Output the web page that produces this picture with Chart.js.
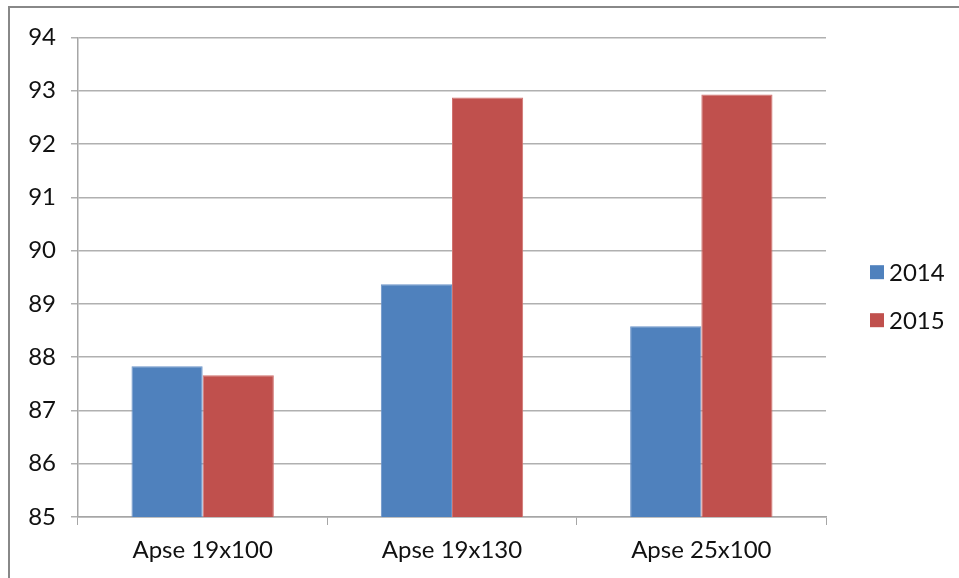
<!DOCTYPE html>
<html>
<head>
<meta charset="utf-8">
<script src="https://cdn.jsdelivr.net/npm/chart.js@4"></script>
<style>
  html, body { margin: 0; padding: 0; background: #fff; overflow: hidden; }
  #frame { position: absolute; left: 8px; top: 6px; width: 951px; height: 572px;
           border-left: 2px solid #888; border-top: 2px solid #888; }
  #wrap { position: absolute; left: 0; top: 0; width: 949px; height: 570px; }
</style>
</head>
<body>
<div id="frame"><div id="wrap"><canvas id="c"></canvas></div></div>
<script>
const categories = ["Apse 19x100", "Apse 19x130", "Apse 25x100"];
const seriesNames = ["2014", "2015"];
const values2014 = [87.83, 89.37, 88.58];
const values2015 = [87.66, 92.87, 92.93];
const yMin = 85, yMax = 94, yStep = 1;

const FONT = "Lato";
const legendPlugin = {
  id: 'customLegend',
  afterDraw(chart) {
    const ctx = chart.ctx;
    const area = chart.chartArea;
    const mid = (area.top + area.bottom) / 2 + 19;
    const n = chart.data.datasets.length;
    const gap = 48;
    ctx.save();
    ctx.font = "24px " + FONT;
    ctx.textBaseline = "middle";
    ctx.textAlign = "left";
    chart.data.datasets.forEach((ds, i) => {
      const y = mid + (i - (n - 1) / 2) * gap;
      const x = area.right + 44;
      ctx.fillStyle = ds.backgroundColor;
      ctx.fillRect(x, y - 7, 14, 14);
      ctx.fillStyle = "#111";
      ctx.fillText(ds.label, x + 19, y + 1);
    });
    ctx.restore();
  }
};

new Chart(document.getElementById('c'), {
  type: 'bar',
  data: {
    labels: categories,
    datasets: [
      { label: seriesNames[0], data: values2014, backgroundColor: '#4F81BD', borderColor: '#6A93C8', borderWidth: 1 },
      { label: seriesNames[1], data: values2015, backgroundColor: '#C0504D', borderColor: '#D0726F', borderWidth: 1 }
    ]
  },
  options: {
    responsive: true,
    maintainAspectRatio: false,
    animation: false,
    devicePixelRatio: 1,
    layout: { padding: { top: 29, right: 133, bottom: 0, left: 0 } },
    datasets: { bar: { categoryPercentage: 0.571, barPercentage: 1.0 } },
    plugins: { legend: { display: false }, tooltip: { enabled: false } },
    scales: {
      x: {
        afterFit(axis) { axis.height = 61; },
        grid: { offset: true, drawOnChartArea: false, drawTicks: true, tickLength: 8, color: '#a6a6a6', lineWidth: 1 },
        border: { display: true, color: '#a6a6a6', width: 1.5 },
        ticks: { font: { family: FONT, size: 24 }, color: '#111', padding: 11, maxRotation: 0 }
      },
      y: {
        min: yMin, max: yMax,
        afterFit(axis) { axis.width = 68; },
        grid: { color: '#b0b0b0', lineWidth: 1.5, tickLength: 7, drawTicks: true },
        border: { display: true, color: '#a6a6a6', width: 1.5 },
        ticks: { stepSize: yStep, font: { family: FONT, size: 24 }, color: '#111', padding: 15 }
      }
    }
  },
  plugins: [legendPlugin]
});
</script>
</body>
</html>
